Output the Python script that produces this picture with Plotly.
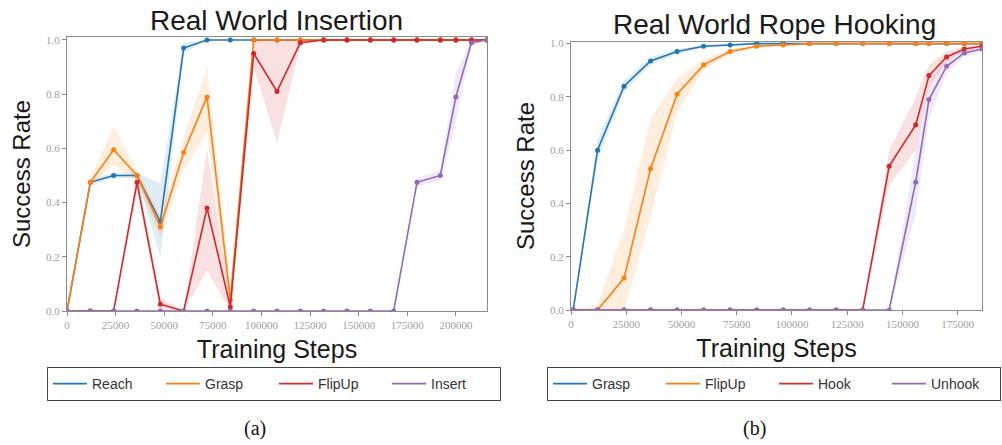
import plotly.graph_objects as go

# ---------------- data: (a) Real World Insertion ----------------
steps_a = [0, 12000, 24000, 36000, 48000, 60000, 72000, 84000, 96000, 108000,
           120000, 132000, 144000, 156000, 168000, 180000, 192000, 200000, 208000, 216000]
reach = [0, .475, .50, .50, .33, .97] + [1.0] * 14
reach_lo = [0, .465, .49, .49, .20, .95] + [1.0] * 14
reach_hi = [0, .485, .51, .51, .47, .99] + [1.0] * 14
grasp_a = [0, .475, .595, .50, .31, .585, .79, .04, 1.0] + [1.0] * 11
grasp_a_lo = [0, .46, .54, .48, .27, .52, .66, 0.0, .99] + [1.0] * 11
grasp_a_hi = [0, .49, .68, .52, .35, .64, .90, .10, 1.0] + [1.0] * 11
flip_a = [0, 0, 0, .475, .025, 0, .38, .015, .95, .81, .99] + [1.0] * 9
flip_a_lo = [0, 0, 0, .44, 0, 0, .15, 0, .90, .62, .98] + [1.0] * 9
flip_a_hi = [0, 0, 0, .50, .05, 0, .60, .04, 1.0, 1.0, 1.0] + [1.0] * 9
insert = [0] * 15 + [.475, .50, .79, .99, 1.0]
insert_lo = [0] * 15 + [.46, .48, .70, .98, 1.0]
insert_hi = [0] * 15 + [.49, .52, .88, 1.0, 1.0]

# ---------------- data: (b) Real World Rope Hooking ----------------
steps_b = [1000, 12000, 24000, 36000, 48000, 60000, 72000, 84000, 96000, 108000,
           120000, 132000, 144000, 156000, 162000, 170000, 178000, 186000]
grasp_b = [0, .60, .84, .935, .97, .99, .995] + [1.0] * 11
grasp_b_lo = [0, .56, .82, .92, .96, .985, .99] + [1.0] * 11
grasp_b_hi = [0, .64, .86, .95, .98, .995, 1.0] + [1.0] * 11
flip_b = [0, 0, .12, .53, .81, .92, .97, .99, .995] + [1.0] * 9
flip_b_lo = [0, 0, 0, .35, .74, .90, .96, .985, .99] + [1.0] * 9
flip_b_hi = [0, .02, .30, .72, .87, .94, .98, .995, 1.0] + [1.0] * 9
hook = [0] * 12 + [.54, .695, .88, .95, .98, .99]
hook_lo = [0] * 12 + [.47, .60, .84, .93, .97, .985]
hook_hi = [0] * 12 + [.60, .80, .92, .97, .99, .995]
unhook = [0] * 13 + [.48, .79, .915, .965, .98]
unhook_lo = [0] * 13 + [.36, .72, .89, .95, .97]
unhook_hi = [0] * 13 + [.60, .86, .94, .98, .99]

ticks_y = [0.0, 0.2, 0.4, 0.6, 0.8, 1.0]
ticks_xa = [0, 25000, 50000, 75000, 100000, 125000, 150000, 175000, 200000]
ticks_xb = [0, 25000, 50000, 75000, 100000, 125000, 150000, 175000]

BLUE, ORANGE, RED, PURPLE = "#1f77b4", "#ff7f0e", "#d62728", "#9467bd"
FILL = {BLUE: "rgba(31,119,180,0.14)", ORANGE: "rgba(255,127,14,0.14)",
        RED: "rgba(214,39,40,0.14)", PURPLE: "rgba(148,103,189,0.14)"}

W, H = 1002, 445
SANS = "Liberation Sans"
SERIF = "Liberation Serif"
TXT = "#1a1a1a"

fig = go.Figure()


def add_series(x, y, lo, hi, name, color, xa, ya, legend):
    fig.add_trace(go.Scatter(x=list(x) + list(x)[::-1], y=list(hi) + list(lo)[::-1],
                             fill="toself", fillcolor=FILL[color], line=dict(width=0),
                             mode="lines", hoverinfo="skip", showlegend=False,
                             xaxis=xa, yaxis=ya))
    fig.add_trace(go.Scatter(x=x, y=y, mode="lines", name=name,
                             line=dict(color=color, width=1.6),
                             xaxis=xa, yaxis=ya, legend=legend))
    fig.add_trace(go.Scatter(x=x, y=y, mode="markers", showlegend=False,
                             marker=dict(color=color, size=5),
                             xaxis=xa, yaxis=ya))


add_series(steps_a, reach, reach_lo, reach_hi, "Reach", BLUE, "x", "y", "legend")
add_series(steps_a, grasp_a, grasp_a_lo, grasp_a_hi, "Grasp", ORANGE, "x", "y", "legend")
add_series(steps_a, flip_a, flip_a_lo, flip_a_hi, "FlipUp", RED, "x", "y", "legend")
add_series(steps_a, insert, insert_lo, insert_hi, "Insert", PURPLE, "x", "y", "legend")

add_series(steps_b, grasp_b, grasp_b_lo, grasp_b_hi, "Grasp", BLUE, "x2", "y2", "legend2")
add_series(steps_b, flip_b, flip_b_lo, flip_b_hi, "FlipUp", ORANGE, "x2", "y2", "legend2")
add_series(steps_b, hook, hook_lo, hook_hi, "Hook", RED, "x2", "y2", "legend2")
add_series(steps_b, unhook, unhook_lo, unhook_hi, "Unhook", PURPLE, "x2", "y2", "legend2")

axis_common = dict(showgrid=False, zeroline=False, showline=True, linecolor="#8c8c8c",
                   linewidth=1, mirror=True, ticks="outside", ticklen=4, tickcolor="#8c8c8c",
                   automargin=False,
                   tickfont=dict(family=SERIF, size=11, color="#a0a0a0"))

xtitle = dict(text="Training Steps", font=dict(family=SANS, size=25, color=TXT), standoff=10)
ytitle = dict(text="Success Rate", font=dict(family=SANS, size=24, color=TXT), standoff=8)
legend_common = dict(orientation="h", xanchor="left", y=1 - 367 / H, yanchor="top",
                     bordercolor="#444", borderwidth=1, bgcolor="white",
                     font=dict(family=SANS, size=14, color="#333"),
                     itemwidth=34, entrywidth=64, entrywidthmode="pixels")

fig.update_layout(
    width=W, height=H, margin=dict(l=0, r=0, t=0, b=0, autoexpand=False),
    plot_bgcolor="white", paper_bgcolor="white",
    xaxis=dict(domain=[67 / W, 487 / W], range=[0, 216000], tickvals=ticks_xa,
               tickformat="d", anchor="y", title=xtitle, **axis_common),
    yaxis=dict(domain=[1 - 311 / H, 1 - 37 / H], range=[0, 1.011], tickvals=ticks_y,
               tickformat=".1f", anchor="x", title=ytitle, **axis_common),
    xaxis2=dict(domain=[571 / W, 982 / W], range=[0, 186000], tickvals=ticks_xb,
                tickformat="d", anchor="y2", title=xtitle, **axis_common),
    yaxis2=dict(domain=[1 - 310 / H, 1 - 42 / H], range=[0, 1.006], tickvals=ticks_y,
                tickformat=".1f", anchor="x2", title=ytitle, **axis_common),
    legend=dict(x=47 / W, **legend_common),
    legend2=dict(x=547 / W, **legend_common),
    annotations=[
        dict(text="Real World Insertion", x=276 / W, y=1 - 21 / H, xref="paper", yref="paper",
             xanchor="center", yanchor="middle", showarrow=False,
             font=dict(family=SANS, size=28, color=TXT)),
        dict(text="Real World Rope Hooking", x=774 / W, y=1 - 24 / H, xref="paper", yref="paper",
             xanchor="center", yanchor="middle", showarrow=False,
             font=dict(family=SANS, size=28, color=TXT)),
        dict(text="(a)", x=255 / W, y=1 - 428 / H, xref="paper", yref="paper",
             xanchor="center", yanchor="middle", showarrow=False,
             font=dict(family=SERIF, size=20, color="#111")),
        dict(text="(b)", x=754 / W, y=1 - 428 / H, xref="paper", yref="paper",
             xanchor="center", yanchor="middle", showarrow=False,
             font=dict(family=SERIF, size=20, color="#111")),
    ],
)

fig.write_html("out.html")
